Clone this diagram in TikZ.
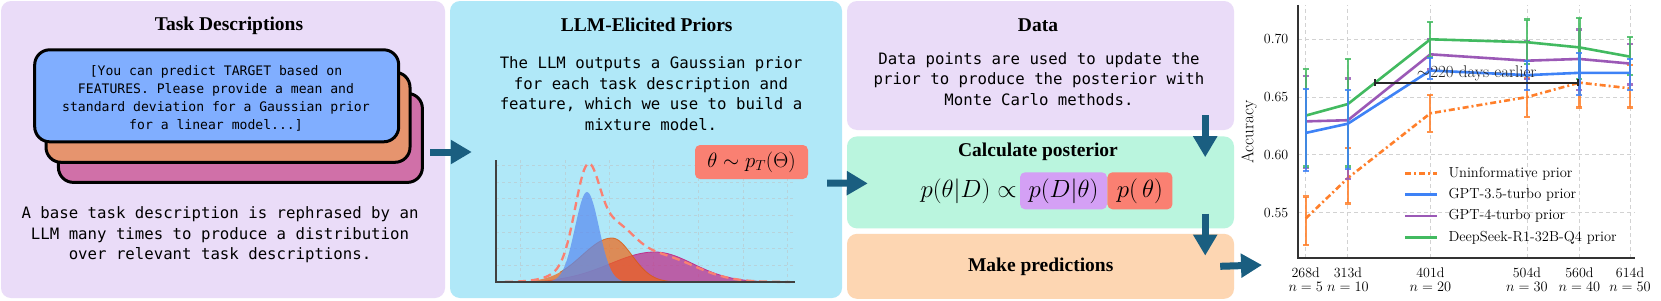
\documentclass[tikz,border=0pt]{standalone}
\usepackage{fontspec}
\setmonofont{DejaVu Sans Mono}
\newfontfamily\headfont{Liberation Serif}
\usetikzlibrary{positioning,arrows.meta}

\definecolor{lav}{RGB}{234,220,248}
\definecolor{sky}{RGB}{176,232,248}
\definecolor{mint}{RGB}{186,245,222}
\definecolor{peach}{RGB}{253,214,178}
\definecolor{salmon}{RGB}{250,128,114}
\definecolor{lilac}{RGB}{212,160,245}
\definecolor{flowc}{RGB}{26,94,128}
\definecolor{cardA}{RGB}{128,174,255}
\definecolor{cardB}{RGB}{230,148,110}
\definecolor{cardC}{RGB}{208,112,168}
\definecolor{pblue}{RGB}{90,140,240}
\definecolor{porange}{RGB}{240,100,20}
\definecolor{pmag}{RGB}{190,50,140}
\definecolor{unif}{RGB}{255,127,42}
\definecolor{gptA}{RGB}{62,130,246}
\definecolor{gptB}{RGB}{155,89,182}
\definecolor{deep}{RGB}{66,186,96}

\begin{document}
\begin{tikzpicture}[x=1pt,y=-1pt,
  panel/.style={rounded corners=10pt,inner sep=0pt},
  card/.style={draw=black,line width=3pt,rounded corners=15pt,inner sep=0pt,minimum width=364pt},
  head/.style={font=\headfont\bfseries\fontsize{19.5}{22}\selectfont,anchor=base},
  body/.style={font=\ttfamily\fontsize{15.7}{20.6}\selectfont,align=center},
  flow/.style={draw=flowc,line width=7pt,-{Triangle[length=21pt,width=23pt]}},
  fgrid/.style={gray!50,dashed,line width=0.5pt,opacity=0.5},
  gline/.style={gray!35,dash pattern=on 4pt off 3pt,line width=0.8pt},
  axline/.style={black!80,line width=2pt},
  series/.style={line width=2.6pt,line join=round},
  errbar/.style={line width=2.2pt,opacity=0.85,{Bar[width=6pt]}-{Bar[width=6pt]}},
  unifline/.style={series,unif,dash pattern=on 6pt off 3pt on 2pt off 3pt},
  gptaline/.style={series,gptA},
  gptbline/.style={series,gptB},
  deepline/.style={series,deep},
  ticklab/.style={font=\fontsize{14}{13.7}\selectfont,inner sep=0pt},
  legtext/.style={font=\fontsize{14.5}{15}\selectfont,anchor=west,inner sep=0pt},
  mathbox/.style={rounded corners=5pt,minimum height=37pt,inner sep=0pt,font=\fontsize{26}{26}\selectfont},
  declare function={
    gb(\u)=90*exp(-min(((\u-587)/12)*((\u-587)/12)/2,20));
    go(\u)=44*exp(-min(((\u-612)/ifthenelse(\u<612,30,20))*((\u-612)/ifthenelse(\u<612,30,20))/2,20));
    gm(\u)=30*exp(-min(((\u-655)/ifthenelse(\u<655,45,38))*((\u-655)/ifthenelse(\u<655,45,38))/2,20));
  }]
\useasboundingbox (0,0) rectangle (1661,300);
\fill[white] (0,0) rectangle (1661,300);

% panels
\node[panel,fill=lav,minimum width=444pt,minimum height=297pt] (task) at (223,149.5) {};
\node[panel,fill=sky,minimum width=392pt,minimum height=297pt] (prior) at (646,149.5) {};
\node[panel,fill=lav,minimum width=387pt,minimum height=129pt] (data) at (1040.5,65.5) {};
\node[panel,fill=mint,minimum width=387pt,minimum height=92pt,below=6pt of data] (calc) {};
\node[panel,fill=peach,minimum width=387pt,minimum height=65pt,below=5pt of calc] (pred) {};

% task descriptions
\node[head] (taskT) at (229,30.7) {Task Descriptions};
\node[card,fill=cardC,minimum height=89pt] (cardc) at (240.4,137.9) {};
\node[card,fill=cardB,minimum height=90pt] (cardb) at (228,117.3) {};
\node[card,fill=cardA,minimum height=92pt] (carda) at (216.7,95.8) {};
\node[font=\ttfamily\fontsize{13.1}{17.8}\selectfont,align=center] (prompt) at (216,98.3)
  {[You can predict TARGET based on\\FEATURES. Please provide a mean and\\standard deviation for a Gaussian prior\\for a linear model...]};
\node[body] (taskB) at (220,234.9) {A base task description is rephrased by an\\LLM many times to produce a distribution\\over relevant task descriptions.};

% elicited priors
\node[head] (priorT) at (646.7,31) {LLM-Elicited Priors};
\node[body] (priorB) at (651,93.7) {The LLM outputs a Gaussian prior\\for each task description and\\feature, which we use to build a\\mixture model.};
\foreach \gx in {520,565,609,653,698,743,787} \draw[fgrid] (\gx,160) -- (\gx,282);
\foreach \gy in {165,182,198,215,232,248,265} \draw[fgrid] (496,\gy) -- (795,\gy);
\fill[pmag,opacity=0.75] plot[domain=505:790,samples=120] (\x,{282-gm(\x)}) -- cycle;
\draw[pmag,line width=0.8pt] plot[domain=560:790,samples=100] (\x,{282-gm(\x)});
\fill[porange,opacity=0.7] plot[domain=510:740,samples=110] (\x,{282-go(\x)}) -- cycle;
\draw[porange!90!black,line width=0.8pt,opacity=0.8] plot[domain=560:700,samples=90] (\x,{282-go(\x)});
\fill[pblue,opacity=0.72] plot[domain=540:635,samples=80] (\x,{282-gb(\x)}) -- cycle;
\draw[salmon,dash pattern=on 8pt off 5pt,line width=2.3pt] plot[domain=505:790,samples=160] (\x,{282-0.9*(gb(\x)+go(\x)+gm(\x))});
\draw[black!75,line width=1.5pt] (496,160) -- (496,282) -- (795,282);
\node[mathbox,fill=salmon,minimum width=113pt,minimum height=34pt,font=\fontsize{20}{20}\selectfont] (sample) at (751.5,162) {$\theta\sim p_T(\Theta)$};

% data and posterior
\node[head] (dataT) at (1038,31) {Data};
\node[body] (dataB) at (1039,78.9) {Data points are used to update the\\prior to produce the posterior with\\Monte Carlo methods.};
\node[head] (calcT) at (1038,156.7) {Calculate posterior};
\node[mathbox,fill=lilac,minimum width=87pt] (lik) at (1063.5,190.8) {$p(D|\theta)$};
\node[mathbox,fill=salmon,minimum width=65pt,right=0pt of lik] (pri) {$p(\,\theta)$};
\node[mathbox,left=3pt of lik] (post) {$p(\theta|D)\propto$};
\node[head] (predT) at (1040.7,271.7) {Make predictions};

% flow arrows
\coordinate (origin) at (1298,258);
\draw[flow] ([xshift=-15pt,yshift=-2.5pt]task.east) -- ([xshift=22pt,yshift=-2.5pt]prior.west);
\draw[flow] ([xshift=-15pt,yshift=-33.5pt]prior.east) -- ([xshift=21pt,yshift=-1pt]calc.west);
\draw[flow] ([xshift=-29pt,yshift=15pt]data.south east) -- ([xshift=-29pt,yshift=-21pt]calc.north east);
\draw[flow] ([xshift=-29pt,yshift=15pt]calc.south east) -- ([xshift=-29pt,yshift=-22pt]pred.north east);
\draw[flow] ([xshift=-14pt]pred.east) -- ([xshift=-36pt,yshift=-7pt]origin);

% accuracy chart
\begin{scope}[shift={(1054.5,848.5)},x=0.9373pt,y=1156pt]
\foreach \v in {0.55,0.60,0.65,0.70} \draw[gline] (259.8,\v) -- (619.3,\v);
\foreach \dy in {268,313,401,504,560,614} \draw[gline] (\dy,0.5111) -- (\dy,0.7297);
\draw[axline] (259.8,0.7297) -- (259.8,0.5111) -- (619.3,0.5111);
\foreach \v [count=\i] in {0.55,0.60,0.65,0.70} \node[ticklab,anchor=east] (yt\i) at ([xshift=-9.5pt]259.8,\v) {\v};
\foreach \dy/\n [count=\i] in {268/5,313/10,401/20,504/30,560/40,614/50}
  \node[ticklab,align=center] (xt\i) at (\dy,0.4918) {\dy d\\$n=\n$};
% error bars and means
\foreach \dy/\lo/\hi in {268/0.521/0.565,313/0.557/0.607,401/0.619/0.653,504/0.632/0.667,560/0.640/0.6836,614/0.640/0.679}
  \draw[errbar,unif] (\dy,\lo) -- (\dy,\hi);
\draw[unifline] (268,0.545) -- (313,0.580) -- (401,0.636) -- (504,0.650) -- (560,0.6625) -- (614,0.6576);
\foreach \dy/\lo/\hi in {268/0.588/0.669,313/0.578/0.667,401/0.673/0.701,504/0.665/0.699,560/0.6555/0.7095,614/0.660/0.697}
  \draw[errbar,gptB] (\dy,\lo) -- (\dy,\hi);
\draw[gptbline] (268,0.629) -- (313,0.630) -- (401,0.687) -- (504,0.6815) -- (560,0.683) -- (614,0.679);
\foreach \dy/\lo/\hi in {268/0.589/0.675,313/0.589/0.684,401/0.684/0.716,504/0.678/0.718,560/0.665/0.7195,614/0.668/0.703}
  \draw[errbar,deep] (\dy,\lo) -- (\dy,\hi);
\draw[deepline] (268,0.634) -- (313,0.644) -- (401,0.700) -- (504,0.6975) -- (560,0.693) -- (614,0.685);
\foreach \dy/\lo/\hi in {268/0.585/0.658,313/0.587/0.657,401/0.665/0.685,504/0.655/0.682,560/0.651/0.689,614/0.6555/0.684}
  \draw[errbar,gptA] (\dy,\lo) -- (\dy,\hi);
\draw[gptaline] (268,0.619) -- (313,0.627) -- (401,0.673) -- (504,0.669) -- (560,0.671) -- (614,0.671);
\draw[black!85,line width=1.8pt,{Bar[width=7pt]}-{Bar[width=7pt]}] (341.2,0.6625) --
  node[above,inner sep=1pt,font=\fontsize{17}{17}\selectfont] (gap) {$\sim$220 days earlier} (559.6,0.6625);
\end{scope}
\node[rotate=90,inner sep=0pt,font=\fontsize{17}{17}\selectfont] (ylab) at (1249,132) {Accuracy};
% legend
\foreach \ly/\ls/\lt [count=\i] in {173.3/unifline/Uninformative prior,194.3/gptaline/GPT-3.5-turbo prior,216/gptbline/GPT-4-turbo prior,237.3/deepline/DeepSeek-R1-32B-Q4 prior}
  {\draw[\ls] (1405,\ly) -- (1437,\ly);
   \node[legtext] (leg\i) at (1448.3,\ly) {\lt};}
\end{tikzpicture}
\end{document}
